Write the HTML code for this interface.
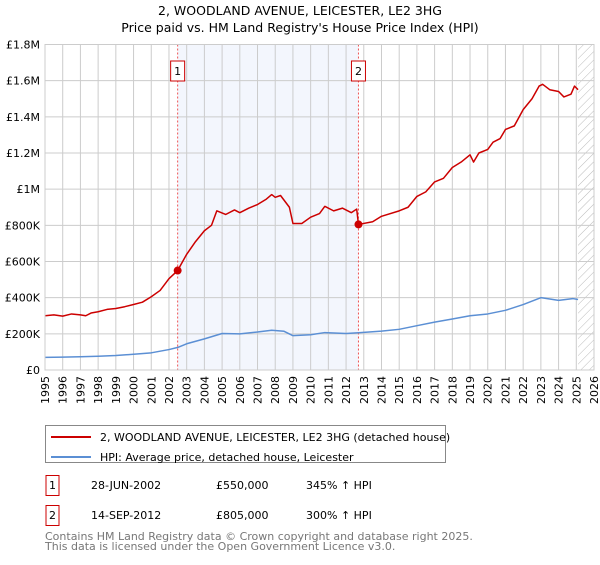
<!DOCTYPE html>
<html><head><meta charset="utf-8"><style>
body{margin:0;background:#fff;font-family:"Liberation Sans","DejaVu Sans",sans-serif}
svg text{font-family:"DejaVu Sans","Liberation Sans",sans-serif}
</style></head><body>
<svg id="c" width="600" height="560" xmlns="http://www.w3.org/2000/svg">
<defs><pattern id="h" width="6" height="6" patternUnits="userSpaceOnUse" patternTransform="rotate(45)"><line x1="0" y1="0" x2="0" y2="6" stroke="#bbb" stroke-width="1"/></pattern></defs>
<text x="300" y="15" text-anchor="middle" font-size="12.5">2, WOODLAND AVENUE, LEICESTER, LE2 3HG</text>
<text x="300" y="32" text-anchor="middle" font-size="12.5">Price paid vs. HM Land Registry's House Price Index (HPI)</text>
<g id="plot"></g>
<rect x="45.5" y="425.5" width="400" height="37" fill="#fff" stroke="#888"/>
<line x1="51" y1="437" x2="91" y2="437" stroke="#cc0000" stroke-width="2"/>
<text x="100" y="441" font-size="11">2, WOODLAND AVENUE, LEICESTER, LE2 3HG (detached house)</text>
<line x1="51" y1="457" x2="91" y2="457" stroke="#5b8fd4" stroke-width="2"/>
<text x="100" y="461" font-size="11">HPI: Average price, detached house, Leicester</text>
<g font-size="11">
<rect x="46" y="475.5" width="13" height="20" fill="none" stroke="#cc0000"/>
<text x="52.5" y="489" text-anchor="middle">1</text><text x="91" y="489">28-JUN-2002</text><text x="216" y="489">£550,000</text><text x="306" y="489">345% ↑ HPI</text>
<rect x="46" y="505.5" width="13" height="20" fill="none" stroke="#cc0000"/>
<text x="52.5" y="519" text-anchor="middle">2</text><text x="91" y="519">14-SEP-2012</text><text x="216" y="519">£805,000</text><text x="306" y="519">300% ↑ HPI</text>
</g>
<text x="45" y="540" font-size="11" fill="#777">Contains HM Land Registry data © Crown copyright and database right 2025.</text>
<text x="45" y="550" font-size="11" fill="#777">This data is licensed under the Open Government Licence v3.0.</text>
</svg>
<script>
const yTicks=[0,200000,400000,600000,800000,1000000,1200000,1400000,1600000,1800000];
const yTickLabels=["£0","£200K","£400K","£600K","£800K","£1M","£1.2M","£1.4M","£1.6M","£1.8M"];
const years=[1995,1996,1997,1998,1999,2000,2001,2002,2003,2004,2005,2006,2007,2008,2009,2010,2011,2012,2013,2014,2015,2016,2017,2018,2019,2020,2021,2022,2023,2024,2025,2026];
const redT=[1995,1995.5,1996,1996.5,1997,1997.3,1997.6,1998,1998.5,1999,1999.5,2000,2000.5,2001,2001.5,2002,2002.49,2003,2003.5,2004,2004.4,2004.7,2005.2,2005.7,2006,2006.5,2007,2007.5,2007.8,2008,2008.3,2008.8,2009,2009.5,2010,2010.5,2010.8,2011.3,2011.8,2012.3,2012.6,2012.7,2013.5,2014,2015,2015.5,2016,2016.5,2017,2017.5,2018,2018.5,2019,2019.2,2019.5,2020,2020.3,2020.7,2021,2021.5,2022,2022.5,2022.9,2023.1,2023.5,2024,2024.3,2024.7,2024.9,2025.1];
const redV=[300,305,298,310,305,300,315,322,335,340,350,362,375,405,440,505,550,640,710,770,800,880,860,885,870,895,915,945,970,955,965,900,810,810,845,865,905,880,895,870,890,805,820,850,880,900,960,985,1040,1060,1120,1150,1190,1150,1200,1220,1260,1280,1330,1350,1440,1500,1570,1580,1550,1540,1510,1525,1570,1550];
const blueT=[1995,1996,1997,1998,1999,2000,2001,2002,2002.5,2003,2004,2005,2006,2007,2007.8,2008.5,2009,2010,2010.8,2012,2012.7,2014,2015,2016,2017,2018,2019,2020,2021,2022,2023,2024,2024.8,2025.1];
const blueV=[70,71,73,76,80,87,95,113,125,145,172,202,200,210,220,214,190,195,207,202,206,215,225,245,265,282,300,310,330,362,400,385,395,390];
const sales=[{t:2002.49,v:550000,n:"1"},{t:2012.7,v:805000,n:"2"}];
const X0=45,X1=594,Y0=370,Y1=44.5;
const xs=t=>X0+(t-1995)/31*(X1-X0);
const ys=v=>Y0-v/1800000*(Y0-Y1);
const NS="http://www.w3.org/2000/svg";
const g=document.getElementById('plot');
function mk(tag,at){const e=document.createElementNS(NS,tag);for(const k in at)e.setAttribute(k,at[k]);g.appendChild(e);return e;}
let e=mk('rect',{x:xs(2002.49),y:Y1,width:xs(2012.7)-xs(2002.49),height:Y0-Y1,fill:'#f3f6fd'});


e=mk('rect',{x:xs(2025.1),y:Y1,width:X1-xs(2025.1),height:Y0-Y1,fill:'url(#h)'});


years.forEach(y=>{const l=mk('line',{x1:xs(y),x2:xs(y),y1:Y1,y2:Y0,stroke:'#ccc'});


const t=mk('text',{x:0,y:0,'font-size':11,'text-anchor':'end',transform:`translate(${xs(y)+4},376) rotate(-90)`});t.textContent=y;

});
yTicks.forEach((v,i)=>{const l=mk('line',{x1:X0,x2:X1,y1:ys(v),y2:ys(v),stroke:'#ccc'});


const t=mk('text',{x:40,y:ys(v)+4,'font-size':11,'text-anchor':'end'});t.textContent=yTickLabels[i];

});
sales.forEach(s=>{const l=mk('line',{x1:xs(s.t),x2:xs(s.t),y1:Y1,y2:Y0,stroke:'#e55','stroke-dasharray':'2,2'});


const r=mk('rect',{x:xs(s.t)-7,y:61,width:14,height:20,fill:'#fff',stroke:'#cc0000'});


const t=mk('text',{x:xs(s.t),y:75,'font-size':11,'text-anchor':'middle'});t.textContent=s.n;

});
function line(T,V,c,n){const p=mk('polyline',{points:T.map((t,i)=>xs(t)+','+ys(V[i]*1000)).join(' '),fill:'none',stroke:c,'stroke-width':1.5,'stroke-linejoin':'round'});

}
line(blueT,blueV,'#5b8fd4','hpi-line');
line(redT,redV,'#cc0000','property-price-line');
sales.forEach(s=>{const c=mk('circle',{cx:xs(s.t),cy:ys(s.v),r:4,fill:'#cc0000'});

});
e=mk('rect',{x:X0,y:Y1,width:X1-X0,height:Y0-Y1,fill:'none',stroke:'#ccc'});


</script>
</body></html>
